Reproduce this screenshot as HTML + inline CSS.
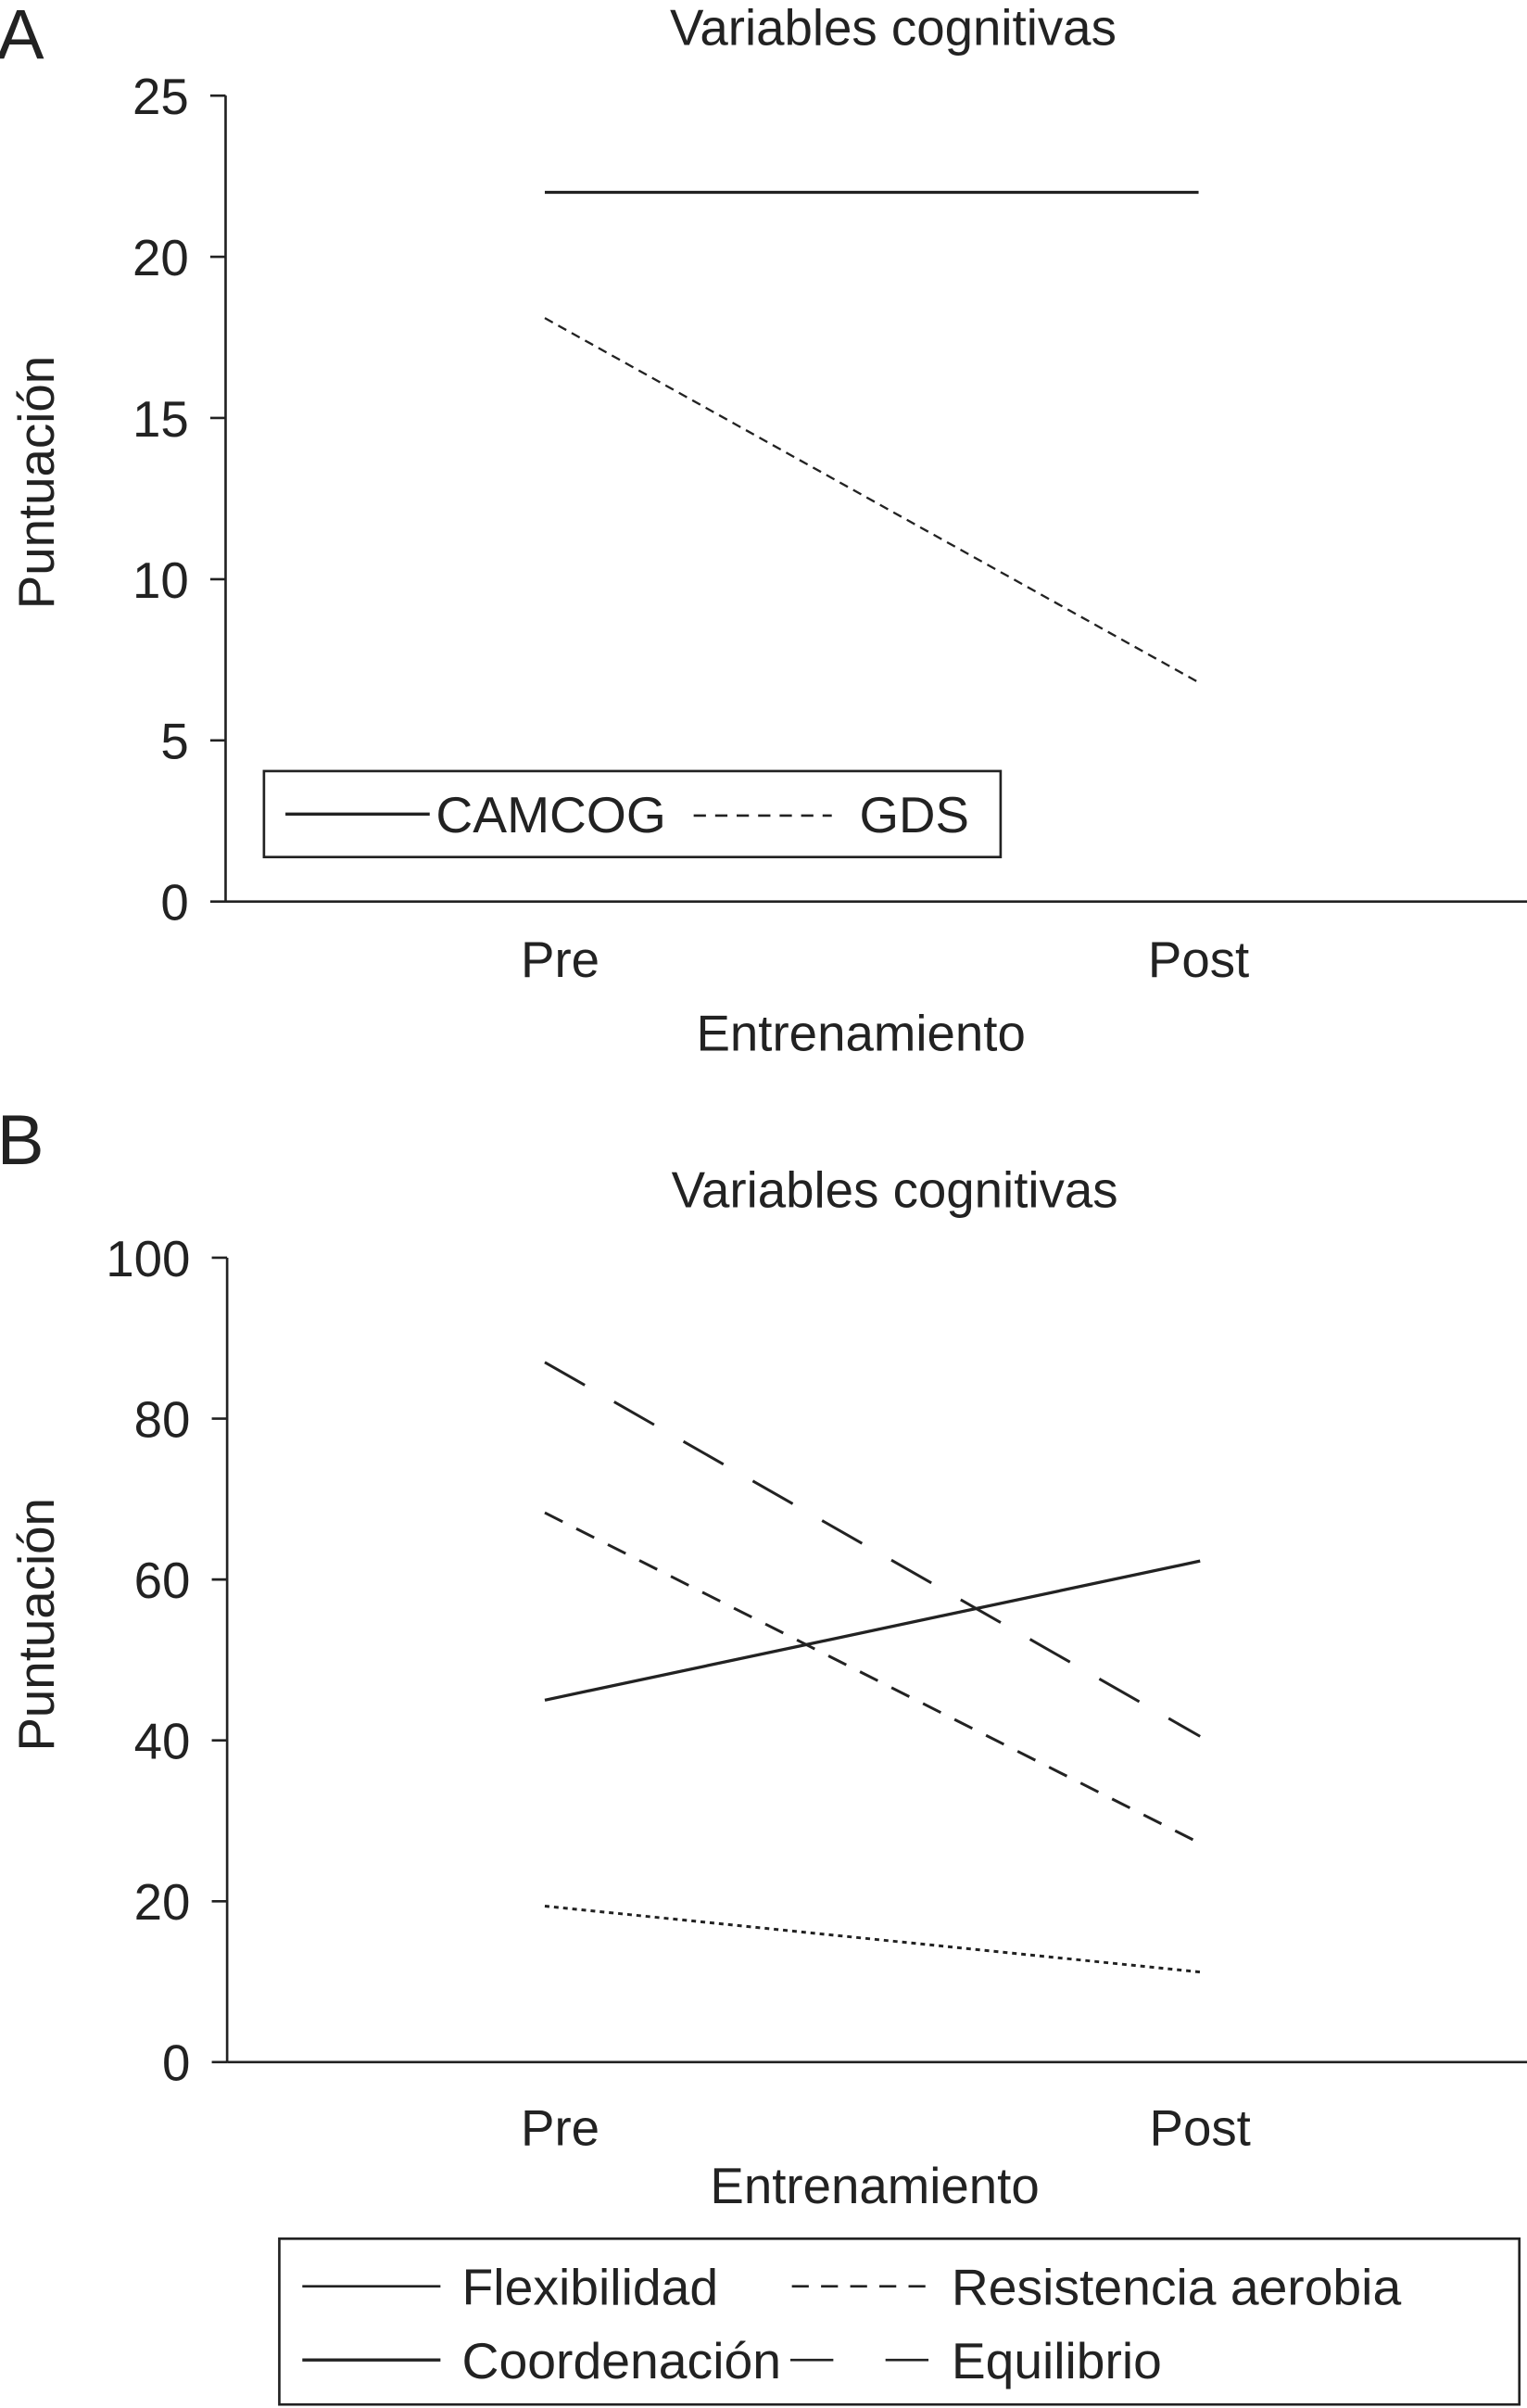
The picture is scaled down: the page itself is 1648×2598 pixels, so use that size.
<!DOCTYPE html>
<html><head><meta charset="utf-8"><style>
html,body{margin:0;padding:0;background:#fff}
svg{display:block}
text{font-family:"Liberation Sans",sans-serif;fill:#222}
</style></head><body>
<svg id="fig" width="1648" height="2598" viewBox="0 0 995 1568">
<g id="pA"></g>
<g id="pB"></g>
</svg>
<script>
const categories = ["Pre", "Post"];
const ticksA = [0, 5, 10, 15, 20, 25];
const camcog = [22, 22];
const gds = [18.1, 6.8];
const ticksB = [0, 20, 40, 60, 80, 100];
const coordenacion = [45, 62.3];
const flexibilidad = [19.4, 11.2];
const resistencia = [68.3, 27.2];
const equilibrio = [87, 40.5];

const NS = "http://www.w3.org/2000/svg";
const FS = 33;
function mk(parent, tag, attrs, txt) {
  const e = document.createElementNS(NS, tag);
  for (const k in attrs) e.setAttribute(k, attrs[k]);
  if (txt !== undefined) e.textContent = txt;
  parent.appendChild(e);
  return e;
}

function panel(g, cfg) {
  const yS = v => cfg.y0 + (v - cfg.min) / (cfg.max - cfg.min) * (cfg.y1 - cfg.y0);
  const xS = i => cfg.xPre + i * (cfg.xPost - cfg.xPre);
  let t = mk(g, "text", {x: -2, y: cfg.letterY, "font-size": 46}, cfg.letter);
  
  
  t = mk(g, "text", {x: cfg.titleX, y: cfg.titleY, "font-size": FS, "text-anchor": "middle"}, "Variables cognitivas");
  
  
  let l = mk(g, "line", {x1: cfg.ax, y1: yS(cfg.max), x2: cfg.ax, y2: yS(cfg.min), stroke: "#222", "stroke-width": 1.6});
  
  
  l = mk(g, "line", {x1: cfg.ax, y1: yS(cfg.min), x2: 995, y2: yS(cfg.min), stroke: "#222", "stroke-width": 1.6});
  
  
  cfg.ticks.forEach(v => {
    const tk = mk(g, "line", {x1: cfg.ax - 10, y1: yS(v), x2: cfg.ax, y2: yS(v), stroke: "#222", "stroke-width": 1.6});
    
    
    const lb = mk(g, "text", {x: cfg.ax - 24, y: yS(v) + 12, "font-size": FS, "text-anchor": "end"}, String(v));
    
    
  });
  categories.forEach((c, i) => {
    const lb = mk(g, "text", {x: xS(i) + 10 * (1 - i), y: cfg.catY, "font-size": FS, "text-anchor": "middle"}, c);
    
    
  });
  t = mk(g, "text", {x: cfg.xtX, y: cfg.xtY, "font-size": FS, "text-anchor": "middle"}, "Entrenamiento");
  
  
  t = mk(g, "text", {x: 0, y: 0, "font-size": FS, "text-anchor": "middle", transform: `translate(35,${cfg.ytY}) rotate(-90)`}, "Puntuación");
  
  
  cfg.series.forEach(s => {
    const ln = mk(g, "line", {x1: xS(0), y1: yS(s.v[0]), x2: xS(1), y2: yS(s.v[1]), stroke: "#222", "stroke-width": s.w || 1.8, "stroke-dasharray": s.dash || "none"});
    
    
  });
}

panel(document.getElementById("pA"), {
  letter: "A", letterY: 38, titleX: 582, titleY: 29, ax: 147, min: 0, max: 25, y0: 587, y1: 62,
  xPre: 355, xPost: 781, ticks: ticksA, catY: 636, xtX: 561, xtY: 684, ytY: 314,
  series: [{name: "camcog-line", v: camcog, w: 2}, {name: "gds-line", v: gds, dash: "6 4", w: 1.4}]
});
panel(document.getElementById("pB"), {
  letter: "B", letterY: 758, titleX: 583, titleY: 786, ax: 148, min: 0, max: 100, y0: 1343, y1: 819,
  xPre: 355, xPost: 782, ticks: ticksB, catY: 1397, xtX: 570, xtY: 1435, ytY: 1058,
  series: [
    {name: "coordenacion-line", v: coordenacion, w: 2},
    {name: "flexibilidad-line", v: flexibilidad, dash: "3 3", w: 1.8},
    {name: "resistencia-aerobia-line", v: resistencia, dash: "13 10", w: 1.8},
    {name: "equilibrio-line", v: equilibrio, dash: "30 22", w: 1.8}
  ]
});

const A = document.getElementById("pA");
let r = mk(A, "rect", {x: 172, y: 502, width: 480, height: 56, fill: "none", stroke: "#222", "stroke-width": 1.6});


let e = mk(A, "line", {x1: 186, y1: 530, x2: 280, y2: 530, stroke: "#222", "stroke-width": 2});


e = mk(A, "text", {x: 284, y: 542, "font-size": FS, textLength: 150, lengthAdjust: "spacingAndGlyphs"}, "CAMCOG");


e = mk(A, "line", {x1: 452, y1: 531, x2: 542, y2: 531, stroke: "#222", "stroke-width": 1.6, "stroke-dasharray": "8 6"});


e = mk(A, "text", {x: 560, y: 542, "font-size": FS}, "GDS");



const B = document.getElementById("pB");
r = mk(B, "rect", {x: 182, y: 1458, width: 808, height: 108, fill: "none", stroke: "#222", "stroke-width": 1.6});


e = mk(B, "line", {x1: 197, y1: 1489, x2: 287, y2: 1489, stroke: "#222", "stroke-width": 1.6});


e = mk(B, "text", {x: 301, y: 1501, "font-size": FS, textLength: 167, lengthAdjust: "spacingAndGlyphs"}, "Flexibilidad");


e = mk(B, "line", {x1: 516, y1: 1489, x2: 606, y2: 1489, stroke: "#222", "stroke-width": 1.6, "stroke-dasharray": "11 8"});


e = mk(B, "text", {x: 620, y: 1501, "font-size": FS, textLength: 293, lengthAdjust: "spacingAndGlyphs"}, "Resistencia aerobia");


e = mk(B, "line", {x1: 197, y1: 1537, x2: 287, y2: 1537, stroke: "#222", "stroke-width": 2});


e = mk(B, "text", {x: 301, y: 1549, "font-size": FS, textLength: 208, lengthAdjust: "spacingAndGlyphs"}, "Coordenación");


e = mk(B, "line", {x1: 515, y1: 1537, x2: 605, y2: 1537, stroke: "#222", "stroke-width": 1.6, "stroke-dasharray": "28 34"});


e = mk(B, "text", {x: 620, y: 1549, "font-size": FS, textLength: 137, lengthAdjust: "spacingAndGlyphs"}, "Equilibrio");


</script>
</body></html>
